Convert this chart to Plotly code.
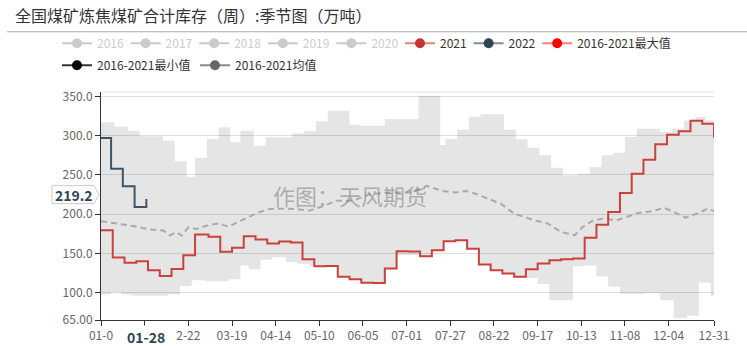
import plotly.graph_objects as go

# ---------------- data (day index in a 366-day calendar, 0 = 01-01) ----------------
tick_pos = [0, 26, 52, 78, 104, 130, 156, 182, 208, 234, 260, 286, 312, 338, 365]
tick_labels = ['01-0', '', '2-22', '03-19', '04-14', '05-10', '06-05', '07-01',
               '07-27', '08-22', '09-17', '10-13', '11-08', '12-04', '12-31']
y_ticks = [65, 100, 150, 200, 250, 300, 350]
y_tick_labels = ['65.00', '100.0', '150.0', '200.0', '250.0', '300.0', '350.0']

hidden_years = ['2016', '2017', '2018', '2019', '2020']

y21_x = [0, 7, 14, 21, 28, 35, 42, 49, 56, 64, 71, 78, 85, 92, 99, 106, 113, 120, 127, 134,
         141, 148, 155, 162, 169, 176, 183, 190, 197, 204, 211, 218, 225, 232, 239, 246, 253,
         260, 267, 274, 281, 288, 295, 302, 309, 316, 323, 330, 337, 344, 351, 358, 365]
y21_v = [179.4, 144.6, 138, 140, 128.4, 121.2, 130, 147.6, 174, 171, 152, 157, 171.8, 167.5,
         162.4, 165, 163.7, 142.5, 133.5, 133.7, 120, 117, 112.5, 112.2, 130.6, 152.6, 152.2,
         146.3, 154, 165.4, 166.7, 156, 135.7, 128.4, 124.2, 120, 129.7, 137, 141.2, 142.5,
         143.3, 170, 186.6, 202.8, 227, 251.6, 269.4, 289, 301.3, 305.5, 319, 315.3, 297.5]

y22_x = [0, 6, 13, 20, 27]
y22_v = [297, 258, 235.5, 209, 219.2]

max_x = [0, 8, 16, 23, 37, 44, 51, 56, 63, 70, 77, 83, 91, 98, 114, 121, 128, 135, 148, 154,
         169, 189, 202, 205, 212, 219, 226, 240, 247, 254, 261, 268, 275, 284, 291, 298, 305,
         312, 319, 333, 340, 347, 354, 360, 365]
max_v = [317, 311.5, 306.4, 299.2, 293.6, 267.4, 247.8, 271.6, 295.8, 310.7, 291.6, 306.4,
         287.3, 298, 303, 305.6, 318.3, 331.8, 314, 312.7, 321.3, 351, 288, 295.8, 307.7,
         324.2, 327.4, 307.6, 295.3, 284.7, 275, 259.2, 249.5, 251.6, 260, 275, 278.3, 298.3,
         308.9, 304.7, 308.9, 319.5, 323.8, 319.5, 319.5]

min_x = [0, 6, 12, 18, 40, 47, 54, 62, 76, 83, 88, 95, 102, 110, 117, 124, 141, 148, 155, 162,
         169, 176, 190, 197, 204, 211, 218, 225, 232, 239, 246, 253, 260, 267, 281, 288, 295,
         302, 309, 324, 333, 341, 349, 356, 363, 365]
min_v = [97.5, 100.5, 97.5, 95.8, 97.5, 108.5, 115.8, 114.3, 116.8, 134.6, 129.8, 141.8, 145,
         138.8, 136.6, 133.5, 120, 117, 112.5, 112.2, 130.6, 148, 146.3, 154, 165.4, 166.7, 156,
         135.7, 128.4, 124.2, 120, 118.5, 111, 90.2, 133.5, 134.6, 120.6, 107.4, 98.5, 99.5,
         90.2, 67.2, 70.5, 112.8, 96, 96]

mean_x = [0, 10, 20, 29, 37, 41, 45, 48, 52, 57, 64, 70, 76, 83, 88, 93, 100, 108, 116, 124,
          132, 140, 150, 160, 172, 184, 194, 203, 211, 217, 223, 231, 238, 246, 252, 258, 266,
          274, 282, 287, 293, 299, 307, 314, 320, 329, 335, 341, 348, 356, 361, 365]
mean_v = [191, 188, 184.5, 180.5, 179, 173, 177, 172.5, 183, 181, 186, 188, 184, 191.5, 196,
          201.5, 206.5, 207, 206.5, 204.5, 210, 217, 217, 225.5, 227.6, 227.6, 236, 229.7,
          227.6, 229.5, 226, 219.7, 213.4, 200.6, 196.4, 192.1, 188, 177.3, 173, 183.7, 192,
          194.3, 192, 197.2, 201.5, 204, 208.3, 202.8, 195.5, 201.5, 207, 204]

pointer_idx = 27
pointer_label = '01-28'

FONT = 'Noto Sans CJK SC, Noto Sans, sans-serif'
W, H = 747, 347
L, R_PX, T, B_PX = 101, 714, 92.3, 320.5
Y0, Y1 = 65, 65 + (B_PX - T) / 0.785


def px2paper_x(px):
    return (px - L) / (R_PX - L)


def py2paper_y(py):
    return (B_PX - py) / (B_PX - T)


fig = go.Figure()

# min/max band
fig.add_trace(go.Scatter(x=min_x, y=min_v, mode='lines', line=dict(width=0, shape='hv'),
                         showlegend=False, hoverinfo='skip'))
fig.add_trace(go.Scatter(x=max_x, y=max_v, mode='lines', line=dict(width=0, shape='hv'),
                         fill='tonexty', fillcolor='rgba(0,0,0,0.10)',
                         showlegend=False, hoverinfo='skip'))
# mean
fig.add_trace(go.Scatter(x=mean_x, y=mean_v, mode='lines',
                         line=dict(color='#aaaaaa', width=2, dash='6px,4px'),
                         showlegend=False))
# 2021, 2022
fig.add_trace(go.Scatter(x=y21_x, y=y21_v, mode='lines',
                         line=dict(color='#c9423d', width=2, shape='hv'), showlegend=False))
fig.add_trace(go.Scatter(x=y22_x, y=y22_v, mode='lines',
                         line=dict(color='#3f5564', width=2, shape='hv'), showlegend=False))

# legend entries
for yr in hidden_years:
    fig.add_trace(go.Scatter(x=[None], y=[None], mode='lines+markers', visible='legendonly',
                             name="<span style='color:#999999'>%s</span>" % yr,
                             line=dict(color='#999999', width=2),
                             marker=dict(color='#999999', size=10),
                             legend='legend', legendwidth=23.6))
legend_items = [
    ('2021', 'rgba(194,53,49,0.6)', '#c23531', 'legend', 23.6),
    ('2022', 'rgba(47,69,84,0.6)', '#2f4554', 'legend', 23.6),
    ('2016-2021最大值', 'rgba(255,0,0,0.5)', '#ff0000', 'legend', None),
    ('2016-2021最小值', '#333333', '#000000', 'legend2', 93),
    ('2016-2021均值', '#888888', '#666666', 'legend2', None),
]
for name, lc, mc, lg, lw in legend_items:
    kw = dict(legendwidth=lw) if lw else {}
    fig.add_trace(go.Scatter(x=[None], y=[None], mode='lines+markers', name=name,
                             line=dict(color=lc, width=2), marker=dict(color=mc, size=10),
                             legend=lg, **kw))

# y pointer label box (pointing at the axis), as in the reference at pixel row 195
yv = y22_v[-1]
pc = py2paper_y(195)
hh = 9 / (B_PX - T)
fig.add_shape(type='path', xref='paper', yref='paper',
              path='M %f,%f L %f,%f L %f,%f L %f,%f L %f,%f Z' % (
                  px2paper_x(52), pc + hh, px2paper_x(94), pc + hh,
                  px2paper_x(99), pc, px2paper_x(94), pc - hh, px2paper_x(52), pc - hh),
              fillcolor='white', line=dict(color='#cccccc', width=1), layer='above')
fig.add_annotation(xref='paper', yref='paper', x=px2paper_x(74), y=pc, xanchor='center',
                   yanchor='middle', text='<b>%.1f</b>' % yv,
                   showarrow=False, font=dict(family=FONT, size=14, color='#2f4554'))

# x pointer label
fig.add_annotation(xref='x', yref='paper', x=pointer_idx, y=0, xanchor='center',
                   yanchor='top', yshift=-5,
                   text='<b>%s</b>' % pointer_label, showarrow=False, bgcolor='white',
                   font=dict(family=FONT, size=14, color='#2f4554'))

# watermark
fig.add_annotation(xref='paper', yref='paper', x=px2paper_x(350), y=py2paper_y(195),
                   xanchor='center', yanchor='middle',
                   text='作图：天风期货', showarrow=False,
                   font=dict(family=FONT, size=22, color='rgba(100,100,100,0.45)'))

# top grid line and title separator
fig.add_shape(type='line', xref='paper', yref='paper', x0=0, x1=1, y0=1, y1=1,
              line=dict(color='#e0e0e0', width=1), layer='below')
fig.add_shape(type='line', xref='paper', yref='paper', x0=px2paper_x(7), x1=px2paper_x(747),
              y0=py2paper_y(32), y1=py2paper_y(32), line=dict(color='#aaaaaa', width=1))

fig.update_layout(
    width=W, height=H,
    margin=dict(l=L, r=W - R_PX, t=T, b=H - B_PX, autoexpand=False),
    paper_bgcolor='white', plot_bgcolor='white',
    font=dict(family=FONT, size=12, color='#333333'),
    title=dict(text='全国煤矿炼焦煤矿合计库存（周）:季节图（万吨）', xref='container',
               yref='container', x=15 / W, xanchor='left', y=1 - 16 / H, yanchor='middle',
               font=dict(family=FONT, size=16, color='#333333')),
    legend=dict(orientation='h', traceorder='normal', x=px2paper_x(57), xanchor='left',
                y=py2paper_y(29), yanchor='top',
                font=dict(family=FONT, size=12, color='#333333'),
                itemclick=False, itemdoubleclick=False, bgcolor='rgba(0,0,0,0)'),
    legend2=dict(orientation='h', traceorder='normal', x=px2paper_x(57), xanchor='left',
                 y=py2paper_y(51), yanchor='top',
                 font=dict(family=FONT, size=12, color='#333333'),
                 itemclick=False, itemdoubleclick=False, bgcolor='rgba(0,0,0,0)'),
    xaxis=dict(range=[0, 365], tickmode='array', tickvals=tick_pos, ticktext=tick_labels,
               showgrid=False, zeroline=False, showline=True, linecolor='#333333',
               ticks='outside', ticklen=5, tickcolor='#333333',
               tickfont=dict(family=FONT, size=12, color='#666666')),
    yaxis=dict(range=[Y0, Y1], tickmode='array', tickvals=y_ticks, ticktext=y_tick_labels,
               showgrid=True, gridcolor='#e0e0e0', zeroline=False, showline=True,
               linecolor='#333333', ticks='outside', ticklen=5, tickcolor='#333333',
               tickfont=dict(family=FONT, size=12, color='#666666')),
    showlegend=True,
)

fig.write_html('out.html')
